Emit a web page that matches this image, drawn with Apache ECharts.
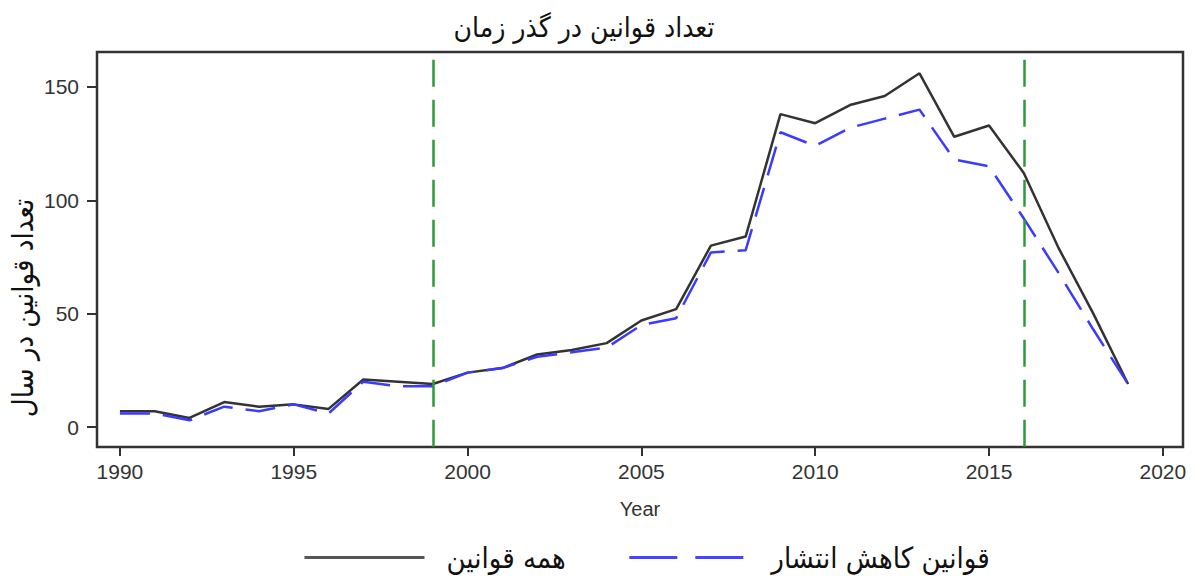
<!DOCTYPE html>
<html>
<head>
<meta charset="utf-8">
<script src="https://cdn.jsdelivr.net/npm/echarts@6/dist/echarts.min.js"></script>
<style>
html,body{margin:0;padding:0;background:#fff;}
#chart{width:1196px;height:578px;}
</style>
</head>
<body>
<div id="chart"></div>
<script>
const years = [1990,1991,1992,1993,1994,1995,1996,1997,1998,1999,2000,2001,2002,2003,2004,2005,2006,2007,2008,2009,2010,2011,2012,2013,2014,2015,2016,2017,2018,2019];
const allLaws = [7,7,4,11,9,10,8,21,20,19,24,26,32,34,37,47,52,80,84,138,134,142,146,156,128,133,112,79,50,19];
const reductionLaws = [6,6,3,9,7,10,6,20,18,18,24,26,31,33,35,45,48,77,78,130,124,132,136,140,118,115,92,68,43,19];
const markerYears = [1999, 2016];
const xTicks = [1990,1995,2000,2005,2010,2015,2020];
const yTicks = [0,50,100,150];

const titleText = 'تعداد قوانین در گذر زمان';
const yTitle = 'تعداد قوانین در سال';
const xTitle = 'Year';
const nameAll = 'همه قوانین';
const nameRed = 'قوانین کاهش انتشار';

const X_MIN = 1989.34, X_MAX = 2020.58, Y_MIN = -8.8, Y_MAX = 165.4, MARK_TOP = 162;

const chart = echarts.init(document.getElementById('chart'), null, {renderer: 'svg'});
const labelStyle = {color: '#333', fontFamily: 'Liberation Sans, Arial, sans-serif', fontSize: 21};
const arFont = '"DejaVu Sans Condensed", "DejaVu Sans", sans-serif';

chart.setOption({
  animation: false,
  backgroundColor: '#fff',
  title: {
    text: titleText, left: 579, textAlign: 'center', top: 8,
    textStyle: {fontFamily: arFont, fontSize: 28, fontWeight: 'normal', color: '#111'}
  },
  grid: {left: 97, top: 52, right: 13, bottom: 131, show: true, borderColor: '#333', borderWidth: 2.5, backgroundColor: '#fff'},
  legend: {
    left: 298, top: 538, itemWidth: 120, itemHeight: 14, itemGap: 62,
    textStyle: {fontFamily: arFont, fontSize: 29, color: '#111', padding: [0,0,0,17]},
    data: [
      {name: nameAll, itemStyle: {opacity: 0}, lineStyle: {color: '#555', width: 3, type: 'solid'}},
      {name: nameRed, itemStyle: {opacity: 0}, lineStyle: {color: '#4545ff', width: 3, type: [48, 18]}}
    ]
  },
  xAxis: {
    type: 'value', min: X_MIN, max: X_MAX,
    name: xTitle, nameLocation: 'middle', nameGap: 52,
    nameTextStyle: {...labelStyle, fontSize: 20},
    axisLine: {show: false, onZero: false},
    splitLine: {show: false},
    axisTick: {show: true, inside: false, length: 9, lineStyle: {color: '#333', width: 2}, customValues: xTicks},
    axisLabel: {customValues: xTicks, margin: 14, formatter: v => String(v), ...labelStyle}
  },
  yAxis: {
    type: 'value', min: Y_MIN, max: Y_MAX,
    axisLine: {show: false, onZero: false},
    splitLine: {show: false},
    axisTick: {show: true, inside: false, length: 10, lineStyle: {color: '#333', width: 2}, customValues: yTicks},
    axisLabel: {customValues: yTicks, margin: 18, formatter: v => String(v), ...labelStyle}
  },
  graphic: [{
    type: 'text', x: 23, y: 308, rotation: Math.PI / 2,
    style: {text: yTitle, fill: '#111', font: '29px ' + arFont, textAlign: 'center', textVerticalAlign: 'middle'}
  }],
  series: [
    {
      name: nameAll, type: 'line', symbol: 'none', z: 3,
      data: years.map((y, i) => [y, allLaws[i]]),
      lineStyle: {color: '#333', width: 2.5},
      itemStyle: {color: '#333'}
    },
    {
      name: nameRed, type: 'line', symbol: 'none', z: 4,
      data: years.map((y, i) => [y, reductionLaws[i]]),
      lineStyle: {color: '#3b3bff', width: 2.5, type: [30, 13]},
      itemStyle: {color: '#3b3bff'},
      markLine: {
        silent: true, symbol: 'none', label: {show: false},
        lineStyle: {color: '#2e9a3a', width: 2.5, type: [27, 13]},
        data: markerYears.map(yr => [{coord: [yr, MARK_TOP]}, {coord: [yr, Y_MIN]}])
      }
    }
  ]
});
</script>
</body>
</html>
